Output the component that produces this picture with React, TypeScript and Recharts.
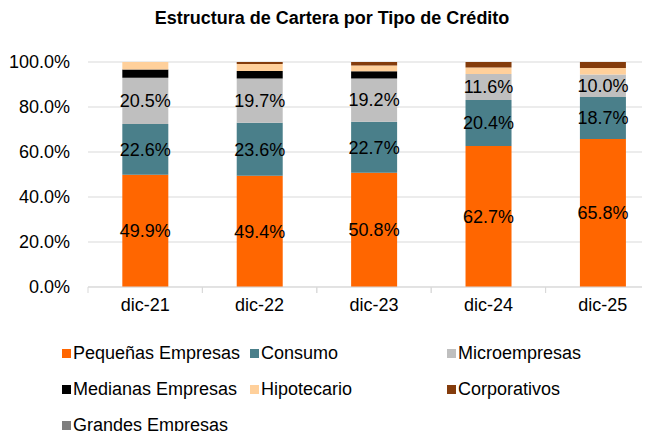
import React from 'react';
import { BarChart, Bar, XAxis, YAxis, CartesianGrid, LabelList } from 'recharts';

const categories = ['dic-21', 'dic-22', 'dic-23', 'dic-24', 'dic-25'];
const pequenas = [49.9, 49.4, 50.8, 62.7, 65.8];
const consumo = [22.6, 23.6, 22.7, 20.4, 18.7];
const micro = [20.5, 19.7, 19.2, 11.6, 10.0];
const medianas = [3.7, 3.3, 3.2, 0.0, 0.0];
const hipotecario = [3.3, 3.1, 2.6, 2.9, 2.8];
const corporativos = [0.0, 0.9, 1.5, 2.4, 2.7];
const grandes = [0.0, 0.0, 0.0, 0.0, 0.0];
const yTicks = [0, 20, 40, 60, 80, 100];

const series = [
  { key: 'pequenas', name: 'Pequeñas Empresas', color: '#FF6600', values: pequenas, label: true },
  { key: 'consumo', name: 'Consumo', color: '#4A7F8A', values: consumo, label: true },
  { key: 'micro', name: 'Microempresas', color: '#BFBFBF', values: micro, label: true },
  { key: 'medianas', name: 'Medianas Empresas', color: '#000000', values: medianas, label: false },
  { key: 'hipotecario', name: 'Hipotecario', color: '#FFD09B', values: hipotecario, label: false },
  { key: 'corporativos', name: 'Corporativos', color: '#843C0C', values: corporativos, label: false },
  { key: 'grandes', name: 'Grandes Empresas', color: '#7F7F7F', values: grandes, label: false },
];

const data = categories.map((c, i) => {
  const row: any = { cat: c };
  series.forEach((s) => {
    row[s.key] = s.values[i];
  });
  return row;
});

const FONT = 'Liberation Sans, Arial, sans-serif';
const BAND = 114.4;

const XTick = (props: any) => {
  const { x, y, payload } = props;
  return (
    <g>
      <line x1={x - BAND / 2} x2={x - BAND / 2} y1={y} y2={y + 6} stroke="#D9D9D9" strokeWidth={1} />
      <line x1={x + BAND / 2} x2={x + BAND / 2} y1={y} y2={y + 6} stroke="#D9D9D9" strokeWidth={1} />
      <text x={x} y={y + 11} dy="0.71em" textAnchor="middle" fill="#000" fontSize={18} fontFamily={FONT}>
        {payload.value}
      </text>
    </g>
  );
};

const legendRows = [
  [0, 1, 2],
  [3, 4, 5],
  [6],
];
const legendCols = [62, 250, 447];
const legendRowsY = [353, 389, 425];

export default function App() {
  return (
    <div style={{ position: 'relative', width: 642, height: 423, overflow: 'hidden', fontFamily: FONT }}>
      <div
        style={{
          position: 'absolute',
          left: 0,
          width: 648,
          top: 0,
          textAlign: 'center',
          fontWeight: 'bold',
          fontSize: 18,
          color: '#000',
        }}
      >
        Estructura de Cartera por Tipo de Crédito
      </div>
      <div style={{ position: 'absolute', left: 0, top: 0 }}>
        <BarChart
          width={700}
          height={423}
          data={data}
          margin={{ top: 54, right: 48, left: 0, bottom: 114 }}
          barCategoryGap="30%"
        >
          <CartesianGrid vertical={false} stroke="#D9D9D9" />
          <XAxis
            dataKey="cat"
            axisLine={{ stroke: '#D9D9D9' }}
            tickLine={false}
            tickSize={0}
            tickMargin={0}
            height={30}
            tick={<XTick />}
            interval={0}
          />
          <YAxis
            domain={[0, 100]}
            ticks={yTicks}
            width={80}
            axisLine={false}
            tickLine={false}
            tickSize={0}
            tickMargin={18}
            tickFormatter={(v: number) => `${v.toFixed(1)}%`}
            tick={{ fill: '#000', fontSize: 18, fontFamily: FONT }}
          />
          {series.map((s) => (
            <Bar key={s.key} dataKey={s.key} name={s.name} stackId="a" fill={s.color} isAnimationActive={false}>
              {s.label ? (
                <LabelList
                  dataKey={s.key}
                  position="center"
                  formatter={(v: any) => `${Number(v).toFixed(1)}%`}
                  fill="#000"
                  fontSize={18}
                  fontFamily={FONT}
                />
              ) : null}
            </Bar>
          ))}
        </BarChart>
      </div>
      {legendRows.map((row, ri) =>
        row.map((si, ci) => {
          const s = series[si];
          return (
            <div
              key={s.key}
              style={{
                position: 'absolute',
                left: legendCols[ci] - 8,
                top: legendRowsY[ri] - 8 - 11,
                display: 'flex',
                alignItems: 'center',
                fontSize: 18,
                color: '#000',
                whiteSpace: 'nowrap',
                height: 22,
              }}
            >
              <span style={{ display: 'inline-block', width: 9, height: 9, background: s.color, marginRight: 2 }} />
              <span>{s.name}</span>
            </div>
          );
        })
      )}
    </div>
  );
}
